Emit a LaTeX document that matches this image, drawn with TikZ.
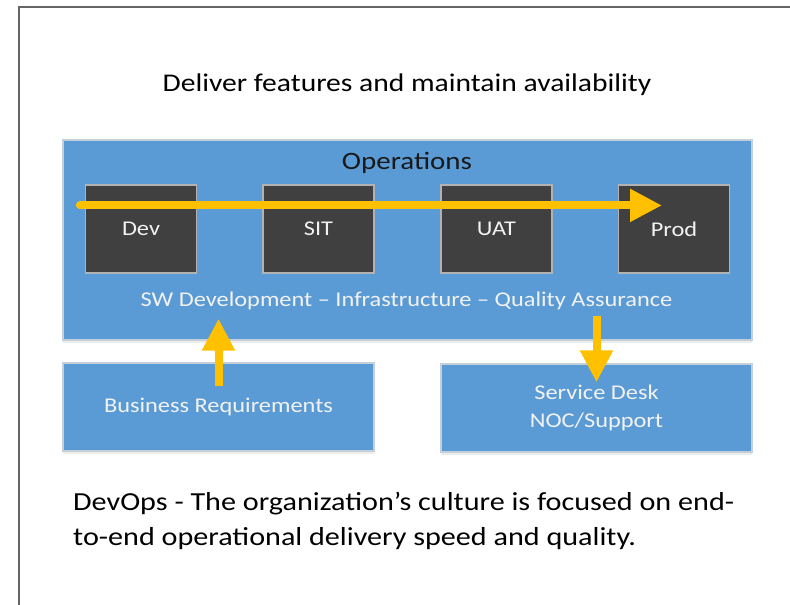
\documentclass[tikz,border=0pt]{standalone}
\usepackage{fontspec}
\setmainfont{Carlito}[FakeStretch=1.16]
\usepackage{tikz}
\usetikzlibrary{arrows.meta,calc,shadows}

\definecolor{opsblue}{HTML}{5B9BD5}
\definecolor{envgray}{HTML}{404040}
\definecolor{flowgold}{HTML}{FFC000}
\definecolor{edgegray}{HTML}{C5CFDA}

\begin{document}
\begin{tikzpicture}[x=1pt, y=-1pt,
    bluebox/.style={draw=edgegray, line width=1.2pt, fill=opsblue, text=white!95!black,
        align=center, inner sep=0pt, font=\fontsize{21}{28}\selectfont,
        drop shadow={opacity=0.15, shadow xshift=0pt, shadow yshift=-3pt}},
    envbox/.style={draw=black!30, line width=1.2pt, fill=envgray, text=white!95!black,
        minimum width=111pt, minimum height=88pt, inner sep=0pt, font=\fontsize{21}{25}\selectfont},
    flow/.style={flowgold, line width=8pt, -{Triangle[length=32pt,width=31pt]}}]
    \useasboundingbox (0,0) rectangle (790,605);

    % Moldura
    \draw[black!60, line width=1.6pt] (19,605) -- (19,7) -- (790,7);

    % Titulo
    \node[font=\fontsize{25.5}{30}\selectfont] (title) at (407,85) {Deliver features and maintain availability};

    % Operations
    \node[bluebox, minimum width=689pt, minimum height=200pt] (ops) at (407.5,240) {};
    \node[font=\fontsize{25}{30}\selectfont, text=black!90] (opslabel) at (407,163) {Operations};
    \node[envbox] (dev)  at (141,229)   {Dev};
    \node[envbox] (sit)  at (318.5,229) {SIT};
    \node[envbox] (uat)  at (496.5,229) {UAT};
    \node[envbox] (prod) at (674,229)   {Prod};
    \node[font=\fontsize{21}{25}\selectfont, text=white!95!black] (swlabel) at (406.5,301)
        {SW Development -- Infrastructure -- Quality Assurance};

    % Caixas de baixo
    \node[bluebox, minimum width=311pt, minimum height=88pt] (bus)  at (218.5,407) {Business Requirements};
    \node[bluebox, minimum width=311pt, minimum height=88pt] (desk) at (596.5,408) {Service Desk\\NOC/Support};

    % Setas
    \draw[flow, line cap=round] ($(dev.north west)+(-5,21)$) -- ($(prod.north)+(-12,21)$);
    \draw[flow] ($(bus.north)+(0,24)$) -- ($(bus.north |- ops.south)+(0,-22)$);
    \draw[flow] ($(desk.north |- ops.south)+(0,-25)$) -- ($(desk.north)+(0,19)$);

    % Texto final
    \node[anchor=north west, align=left, inner sep=0pt, font=\fontsize{26}{35}\selectfont] (culture) at (73,492)
        {DevOps - The organization’s culture is focused on end-\\to-end operational delivery speed and quality.};
\end{tikzpicture}
\end{document}
